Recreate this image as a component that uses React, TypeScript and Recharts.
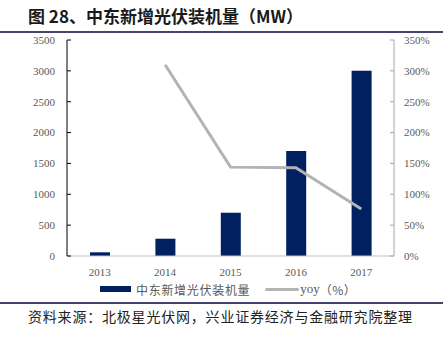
import React from "react";
import { ComposedChart, Bar, Line, XAxis, YAxis, Legend } from "recharts";

const years = ["2013", "2014", "2015", "2016", "2017"];
const capacity = [60, 280, 700, 1700, 3000];
const yoy: (number | null)[] = [null, 310, 144, 143, 76];
const leftTicks = [0, 500, 1000, 1500, 2000, 2500, 3000, 3500];
const rightTicks = [0, 50, 100, 150, 200, 250, 300, 350];

const data = years.map((y, i) => ({ year: y, cap: capacity[i], yoy: yoy[i] }));

const tickFont = { fontFamily: "'Liberation Serif', serif", fontSize: 11, fill: "#595959" };

const LegendContent = () => (
  <div
    style={{
      display: "flex",
      alignItems: "center",
      justifyContent: "flex-start",
      paddingLeft: 100,
      fontFamily: "'Noto Sans CJK SC', sans-serif",
      fontSize: 12,
      color: "#595959",
      height: 16,
    }}
  >
    <span style={{ display: "inline-block", width: 31, height: 6, background: "#002060" }} />
    <span style={{ marginLeft: 5, letterSpacing: 0.7 }}>中东新增光伏装机量</span>
    <span style={{ display: "inline-block", width: 34, height: 3, background: "#b3b3b3", marginLeft: 15, borderRadius: 2 }} />
    <span style={{ marginLeft: 1, fontFamily: "'Liberation Serif', serif", fontSize: 13 }}>yoy</span>
    <span style={{ letterSpacing: 0.5 }}>（%）</span>
  </div>
);

export default function App() {
  return (
    <div style={{ position: "absolute", left: 0, top: 0, width: 443, height: 338, background: "#fff" }}>
      <div
        style={{
          position: "absolute",
          left: 28,
          top: 5,
          fontFamily: "'Noto Sans CJK SC', sans-serif",
          fontWeight: 700,
          fontSize: 17,
          color: "#1a1a1a",
          whiteSpace: "nowrap",
          lineHeight: "22px",
        }}
      >
        图 28、中东新增光伏装机量（MW）
      </div>
      <div style={{ position: "absolute", left: 0, top: 31, width: 443, height: 2, background: "#44446e" }} />
      <div style={{ position: "absolute", left: 0, top: 302, width: 443, height: 2, background: "#44446e" }} />
      <div
        style={{
          position: "absolute",
          left: 28,
          top: 306,
          fontFamily: "'Noto Sans CJK SC', sans-serif",
          fontSize: 14,
          letterSpacing: 0.8,
          color: "#222",
          whiteSpace: "nowrap",
          lineHeight: "20px",
        }}
      >
        资料来源：北极星光伏网，兴业证券经济与金融研究院整理
      </div>
      <div style={{ position: "absolute", left: 0, top: 0 }}>
        <ComposedChart
          width={443}
          height={300}
          data={data}
          margin={{ top: 40, right: 4, left: 17, bottom: 8 }}
        >
          <XAxis
            dataKey="year"
            height={20}
            tickLine={false}
            tickMargin={6}
            axisLine={{ stroke: "#bfbfbf" }}
            tick={tickFont}
          />
          <YAxis
            yAxisId="left"
            width={50}
            domain={[0, 3500]}
            ticks={leftTicks}
            interval={0}
            axisLine={{ stroke: "#000" }}
            tickLine={{ stroke: "#000" }}
            tickSize={-4}
            tickMargin={16}
            tick={tickFont}
          />
          <YAxis
            yAxisId="right"
            orientation="right"
            width={45}
            domain={[0, 350]}
            ticks={rightTicks}
            interval={0}
            tickFormatter={(v: number) => `${v}%`}
            axisLine={{ stroke: "#a6a6a6" }}
            tickLine={{ stroke: "#a6a6a6" }}
            tickSize={-4}
            tickMargin={14}
            tick={tickFont}
          />
          <Bar yAxisId="left" dataKey="cap" fill="#002060" barSize={20} isAnimationActive={false} />
          <Line
            yAxisId="right"
            dataKey="yoy"
            stroke="#b3b3b3"
            strokeWidth={3}
            dot={false}
            activeDot={false}
            connectNulls={false}
            type="linear"
            isAnimationActive={false}
          />
          <Legend content={<LegendContent />} wrapperStyle={{ top: 281, left: 0, width: 443 }} />
        </ComposedChart>
      </div>
    </div>
  );
}
